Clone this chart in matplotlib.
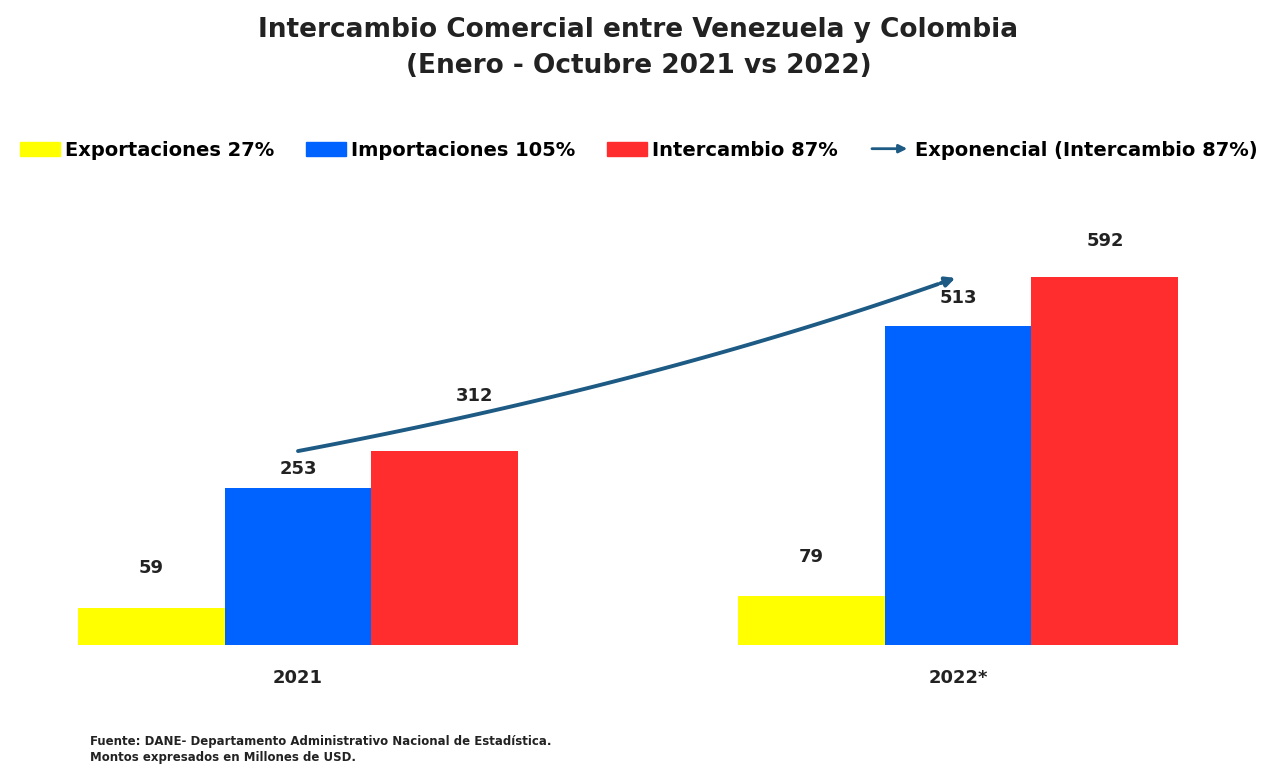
import numpy as np
import matplotlib
matplotlib.use('Agg')
import matplotlib.pyplot as plt
from matplotlib.legend_handler import HandlerBase
from matplotlib.patches import FancyArrowPatch, Patch
from matplotlib.lines import Line2D

years = ['2021', '2022*']
exportaciones = [59, 79]
importaciones = [253, 513]
intercambio = [312, 592]
legend_labels = ['Exportaciones 27%', 'Importaciones 105%', 'Intercambio 87%',
                 'Exponencial (Intercambio 87%)']

c_exp = '#ffff00'
c_imp = '#0063ff'
c_int = '#ff2d2d'
c_trend = '#1d5a84'

plt.rcParams['font.family'] = ['DejaVu Sans']
plt.rcParams['font.weight'] = 'bold'

W, H = 1277, 765
fig = plt.figure(figsize=(W / 100, H / 100), dpi=100)

# axes placed in pixel terms: x=0 -> px 298, x=1 -> px 958, y=0 -> px 645
left_px, right_px, bot_px, top_px = 40, 1237, 645, 200
ax = fig.add_axes([left_px / W, 1 - bot_px / H, (right_px - left_px) / W, (bot_px - top_px) / H])
ax.set_xlim((left_px - 298) / 660, (right_px - 298) / 660)
ax.set_ylim(0, (bot_px - top_px) / 0.6216)

x = np.arange(len(years))
bw = 0.2227
ax.bar(x - bw, exportaciones, bw, color=c_exp)
ax.bar(x, importaciones, bw, color=c_imp)
ax.bar(x + bw, intercambio, bw, color=c_int)

# exponential trendline on the intercambio series
b = np.log(intercambio[1] / intercambio[0])
xt = np.linspace(0, 1, 100)
yt = intercambio[0] * np.exp(b * xt)
ax.plot(xt[:-3], yt[:-3], color=c_trend, lw=2.8, solid_capstyle='round')
ax.annotate('', xy=(xt[-1], yt[-1]), xytext=(xt[-4], yt[-4]),
            arrowprops=dict(arrowstyle='-|>', color=c_trend, lw=2.8, mutation_scale=14))

lab_kw = dict(textcoords='offset pixels', ha='center', va='bottom', fontsize=13, fontweight='bold',
              color='#222222')
ax.annotate(str(exportaciones[0]), (x[0] - bw, exportaciones[0]), xytext=(0, 31), **lab_kw)
ax.annotate(str(importaciones[0]), (x[0], importaciones[0]), xytext=(0, 10), **lab_kw)
ax.annotate(str(intercambio[0]), (x[0] + bw, intercambio[0]), xytext=(30, 46), **lab_kw)
ax.annotate(str(exportaciones[1]), (x[1] - bw, exportaciones[1]), xytext=(0, 30), **lab_kw)
ax.annotate(str(importaciones[1]), (x[1], importaciones[1]), xytext=(0, 19), **lab_kw)
ax.annotate(str(intercambio[1]), (x[1] + bw, intercambio[1]), xytext=(0, 27), **lab_kw)

ax.set_xticks(x)
ax.set_xticklabels(years, fontsize=13, fontweight='bold', color='#222222')
ax.tick_params(axis='x', length=0, pad=17)
ax.set_yticks([])
for s in ax.spines.values():
    s.set_visible(False)

fig.text(0.5, 1 - 30 / H, 'Intercambio Comercial entre Venezuela y Colombia',
         ha='center', va='center', fontsize=19, fontweight='bold', color='#222222')
fig.text(0.5, 1 - 66 / H, '(Enero - Octubre 2021 vs 2022)',
         ha='center', va='center', fontsize=19, fontweight='bold', color='#222222')


class ArrowHandler(HandlerBase):
    def create_artists(self, legend, orig_handle, xdescent, ydescent, width, height, fontsize, trans):
        a = FancyArrowPatch((0, height / 2), (width, height / 2), arrowstyle='-|>',
                            mutation_scale=12, color=c_trend, lw=2, transform=trans)
        return [a]


handles = [Patch(color=c_exp), Patch(color=c_imp), Patch(color=c_int), Line2D([], [])]
fig.legend(handles, legend_labels, loc='center', bbox_to_anchor=(0.5, 1 - 150 / H), ncol=4,
           frameon=False, handlelength=2.1, handleheight=0.7, handletextpad=0.25,
           columnspacing=1.6, handler_map={Line2D: ArrowHandler()},
           prop=dict(weight='bold', size=14))

fig.text(90 / W, 1 - 742 / H, 'Fuente: DANE- Departamento Administrativo Nacional de Estadística.',
         ha='left', va='center', fontsize=8.5, fontweight='bold', color='#222222')
fig.text(90 / W, 1 - 758 / H, 'Montos expresados en Millones de USD.',
         ha='left', va='center', fontsize=8.5, fontweight='bold', color='#222222')

fig.savefig('out.png', dpi=100)
